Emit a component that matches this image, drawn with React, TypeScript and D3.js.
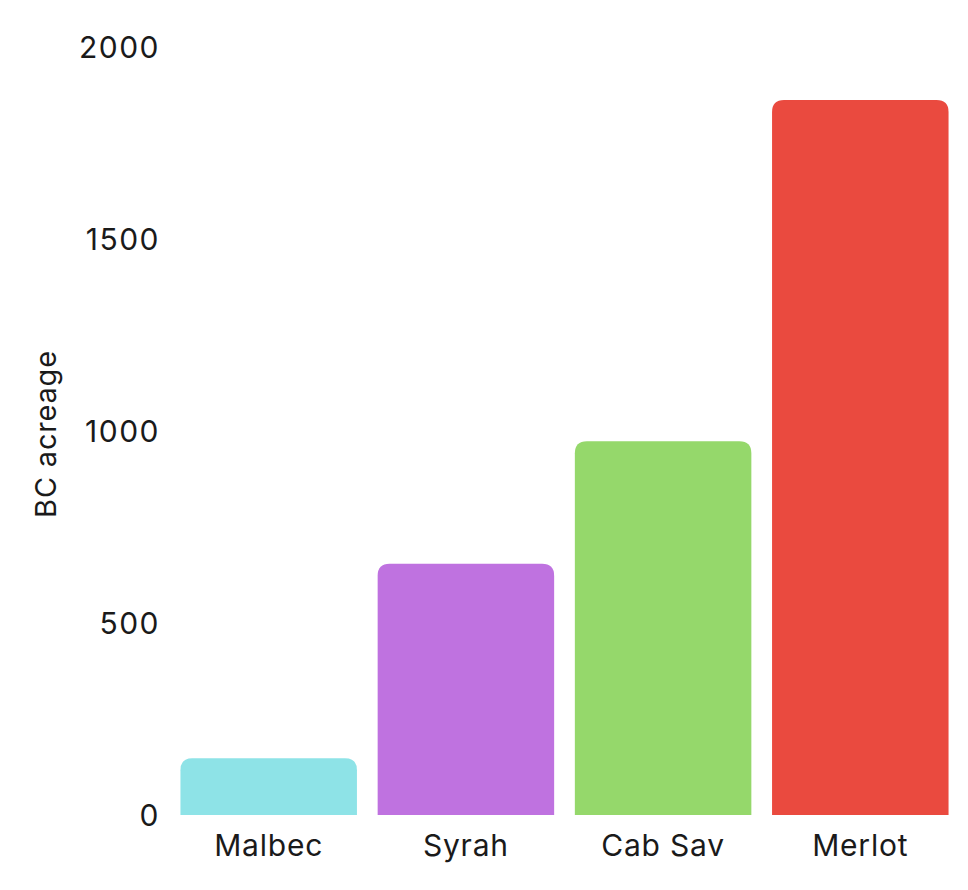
import React from "react";
import * as d3 from "d3";

const categories = ["Malbec", "Syrah", "Cab Sav", "Merlot"];
const values = [148, 654, 973, 1862];
const colors = ["#8ee3e7", "#bf72e0", "#95d86b", "#ea4a3f"];
const yTicks = [0, 500, 1000, 1500, 2000];

const W = 968;
const H = 890;

function topRounded(x: number, y: number, w: number, h: number, r: number) {
  const rr = Math.min(r, h, w / 2);
  return `M${x},${y + h}V${y + rr}Q${x},${y} ${x + rr},${y}H${x + w - rr}Q${x + w},${y} ${x + w},${y + rr}V${y + h}Z`;
}

export default function App() {
  const x = d3.scaleBand<string>().domain(categories).range([170, 959]).paddingInner(0.105).paddingOuter(0.053);
  const y = d3.scaleLinear().domain([0, 2000]).range([815, 47]);
  const font = "Inter, 'Open Sans', sans-serif";
  return (
    <svg width={W} height={H} style={{ position: "absolute", left: 0, top: 0 }}>
      <rect width={W} height={H} fill="#fff" />
      {categories.map((c, i) => (
        <path
          key={c}
          d={topRounded(x(c)!, y(values[i]), x.bandwidth(), y(0) - y(values[i]), 12)}
          fill={colors[i]}
        />
      ))}
      {yTicks.map((t) => (
        <text key={t} x={160} y={y(t)} dy="0.36em" textAnchor="end" fontFamily={font} fontSize={30} letterSpacing={1.5} fill="#1a1a1a">
          {t}
        </text>
      ))}
      {categories.map((c) => (
        <text key={c} x={x(c)! + x.bandwidth() / 2} y={856} textAnchor="middle" fontFamily={font} fontSize={30} letterSpacing={0.8} fill="#1a1a1a">
          {c}
        </text>
      ))}
      <text transform="translate(56,434) rotate(-90)" textAnchor="middle" fontFamily={font} fontSize={29} letterSpacing={0.8} fill="#1a1a1a">
        BC acreage
      </text>
    </svg>
  );
}
